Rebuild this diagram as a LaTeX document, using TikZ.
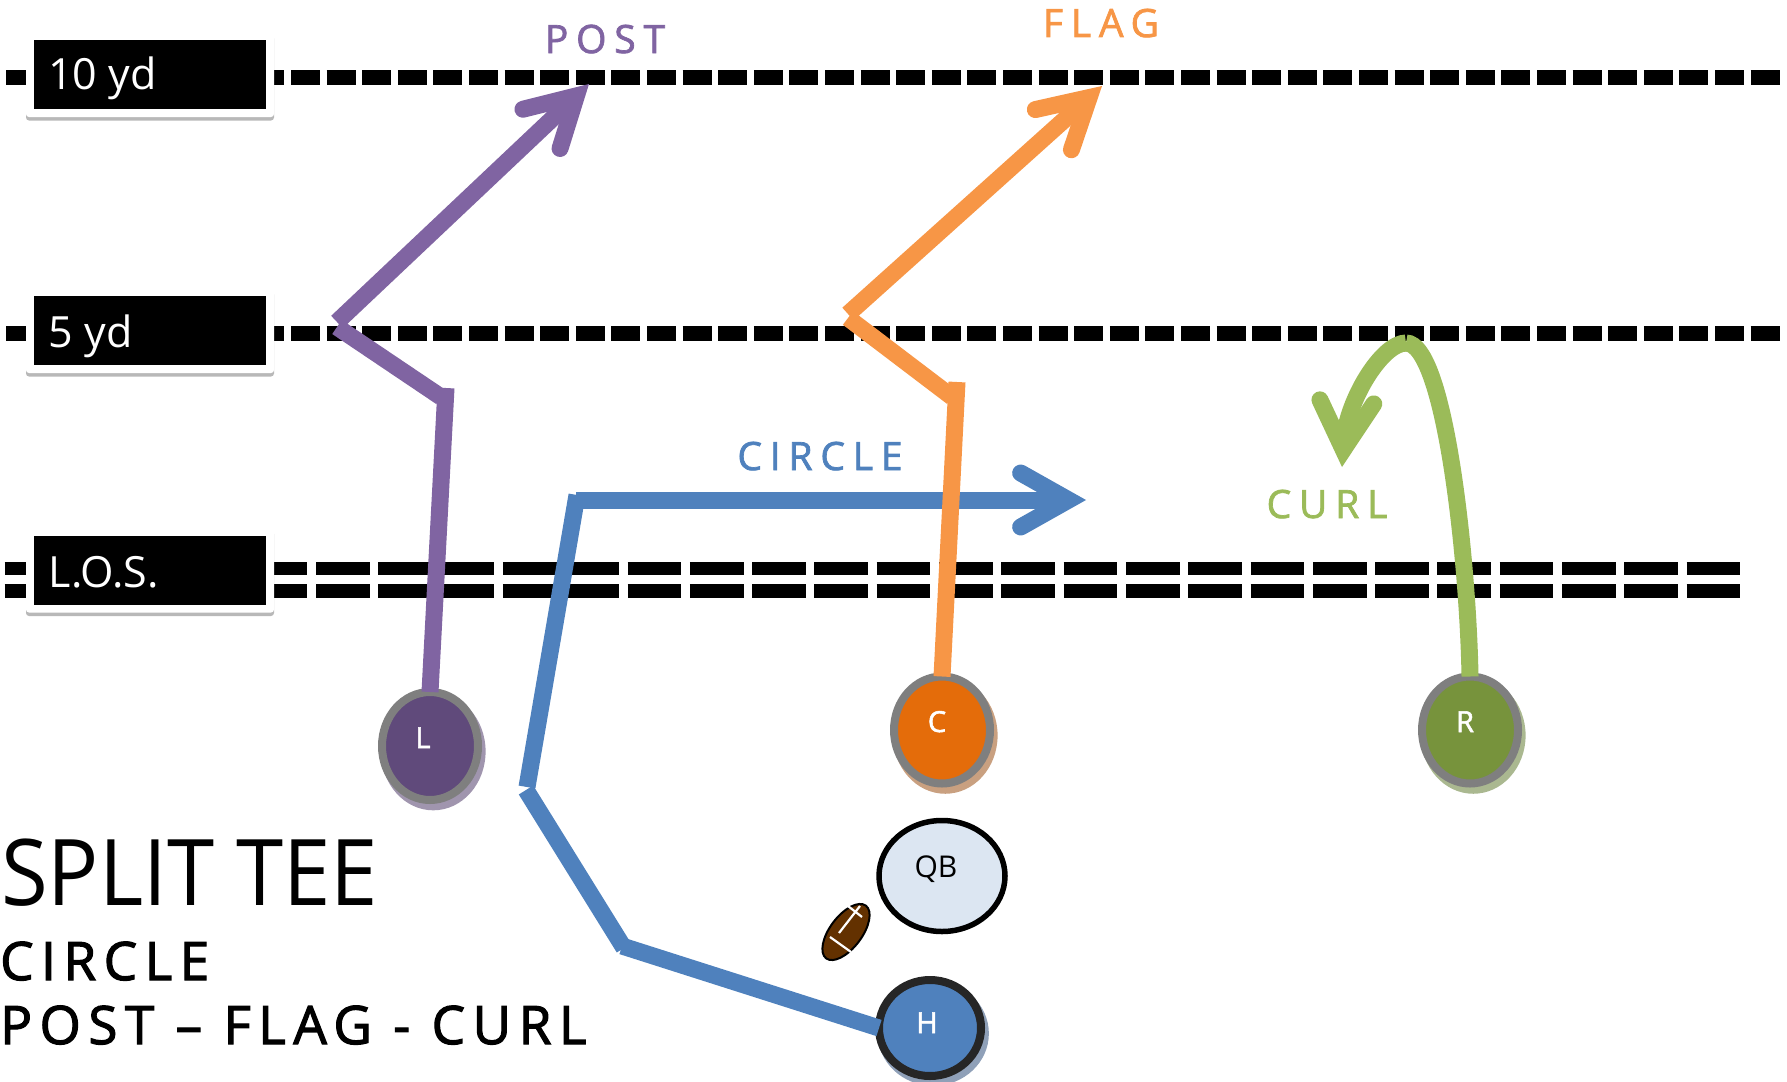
\documentclass[tikz,border=0pt]{standalone}
\usepackage{fontspec}
\setmainfont{Open Sans}
\newfontfamily\spacedfont[LetterSpace=20,FakeBold=1.8]{Open Sans}
\newfontfamily\spacedsemi[LetterSpace=14.2,FakeBold=2.2]{Open Sans}
\newfontfamily\titlefont[FakeStretch=0.925]{Open Sans}
\newfontfamily\playerfont[FakeBold=1.8]{Open Sans}
\usetikzlibrary{shapes.geometric,shadows,arrows.meta}
\definecolor{pathpurple}{HTML}{8064A2}
\definecolor{pathorange}{HTML}{F79646}
\definecolor{pathblue}{HTML}{4F81BD}
\definecolor{pathgreen}{HTML}{9BBB59}
\definecolor{ringgray}{HTML}{7F7F7F}
\definecolor{lfill}{HTML}{604A7B}
\definecolor{cfill}{HTML}{E46C0A}
\definecolor{rfill}{HTML}{77933C}
\definecolor{hring}{HTML}{262626}
\definecolor{qbfill}{HTML}{DCE6F2}
\definecolor{ballfill}{HTML}{633100}
\definecolor{lshade}{HTML}{A095AE}
\definecolor{cshade}{HTML}{C9A080}
\definecolor{rshade}{HTML}{AAB890}
\definecolor{hshade}{HTML}{8FA0B8}
\tikzset{
  yardline/.style={line width=15pt,dash pattern=on 29pt off 6.6pt},
  loslineA/.style={line width=13.4pt,dash pattern=on 53.7pt off 8.6pt},
  labelplate/.style={rectangle,fill=white,rounded corners=3pt,minimum width=248pt,minimum height=85pt,inner sep=0pt,
    drop shadow={shadow xshift=0pt,shadow yshift=-3.5pt,fill=black,opacity=.28}},
  labelink/.style={rectangle,fill=black,minimum width=232pt,minimum height=69pt,inner sep=0pt},
  labeltext/.style={anchor=base west,inner sep=0pt,text=white,font=\fontsize{43}{43}\selectfont},
  player/.style={ellipse,inner sep=0pt,line width=8pt,outer sep=0pt},
  playershade/.style={drop shadow={shadow xshift=3pt,shadow yshift=-5pt,shadow scale=1.09,fill=#1,opacity=1}},
  playertext/.style={anchor=base,inner sep=0pt,text=white,font=\fontsize{29}{29}\playerfont},
  route/.style={line width=17pt},
  routetip/.style={route,-{Straight Barb[length=48pt,width=54pt,line width=17pt,line cap=round,line join=miter]}},
  routename/.style={anchor=base,inner sep=0pt,font=\fontsize{39}{39}\spacedfont},
  title/.style={anchor=base west,inner sep=0pt,text=black},
}
\begin{document}
\begin{tikzpicture}[x=1pt,y=-1pt]
\useasboundingbox (0,0) rectangle (1787,1081);
% yard lines
\coordinate (y10a) at (6.2,77.3); \coordinate (y10b) at (1780,77.3);
\coordinate (y5a) at (6.2,333.5); \coordinate (y5b) at (1780,333.5);
\coordinate (lau) at (4.5,568.3); \coordinate (lbu) at (1740,568.3);
\coordinate (lal) at (4.5,590.8); \coordinate (lbl) at (1740,590.8);
\draw[yardline] (y10a) -- (y10b);
\draw[yardline] (y5a) -- (y5b);
\draw[loslineA] (lau) -- (lbu);
\draw[loslineA] (lal) -- (lbl);
% yard labels
\node[labelplate] (plate10) at (150,74.5) {};
\node[labelink] (ink10) at (150,74.5) {};
\node[labeltext] (text10) at (48,89) {10 yd};
\node[labelplate] (plate5) at (150,330.5) {};
\node[labelink] (ink5) at (150,330.5) {};
\node[labeltext] (text5) at (48.5,347) {5 yd};
\node[labelplate] (platelos) at (150,570) {};
\node[labelink] (inklos) at (150,570) {};
\node[labeltext] (textlos) at (48.5,587) {L.O.S.};
% players
\node[player,draw=ringgray,fill=lfill,minimum width=96pt,minimum height=108pt,playershade=lshade] (L) at (430,746) {};
\node[player,draw=ringgray,fill=cfill,minimum width=96pt,minimum height=107pt,playershade=cshade] (C) at (942,730) {};
\node[player,draw=ringgray,fill=rfill,minimum width=96pt,minimum height=107pt,playershade=rshade] (R) at (1470,730) {};
\node[player,draw=hring,fill=pathblue,minimum width=102pt,minimum height=96pt,playershade=hshade] (H) at (930,1028) {};
\node[ellipse,inner sep=0pt,outer sep=0pt,line width=5.5pt,draw=black,fill=qbfill,minimum width=126pt,minimum height=111pt] (QB) at (942,876) {};
\node[playertext] (Lt) at (423,748) {L};
\node[playertext] (Ct) at (937,732) {C};
\node[playertext] (Rt) at (1465,732) {R};
\node[playertext] (Ht) at (927,1033) {H};
\node[anchor=base,inner sep=0pt,text=black,font=\fontsize{30}{30}\selectfont] (QBt) at (936,877) {QB};
% football
\node[ellipse,inner sep=0pt,outer sep=0pt,line width=2pt,draw=black,fill=ballfill,minimum width=66pt,minimum height=32pt,rotate=53] (ball) at (846,932) {};
\coordinate (lace1a) at (839,933); \coordinate (lace1b) at (860,906);
\coordinate (lace2a) at (848,906); \coordinate (lace2b) at (862,917);
\coordinate (lace3a) at (830,937); \coordinate (lace3b) at (851,952);
\draw[white,line width=2.2pt] (lace1a) -- (lace1b) (lace2a) -- (lace2b) (lace3a) -- (lace3b);
% route points
\coordinate (p1) at (446,388); \coordinate (p2) at (441,397); \coordinate (p3) at (337,327); \coordinate (p4) at (337,322); \coordinate (p5) at (589,84);
\coordinate (o1) at (957,382); \coordinate (o2) at (952,397); \coordinate (o3) at (848,318); \coordinate (o4) at (848,314); \coordinate (o5) at (1102,86);
\coordinate (b1) at (622,946); \coordinate (b2) at (624,948); \coordinate (b3) at (526,790); \coordinate (b4) at (527,787); \coordinate (b5) at (577,495); \coordinate (b6) at (576,500); \coordinate (b7) at (1086,500);
\coordinate (g1) at (1406,343); \coordinate (g2) at (1342,467);
% routes
\draw[route,pathblue] (H.west) -- (b1);
\draw[route,pathblue] (b2) -- (b3);
\draw[route,pathblue] (b4) -- (b5);
\draw[routetip,pathblue] (b6) -- (b7);
\draw[route,pathpurple] (L.north) -- (p1);
\draw[route,pathpurple] (p2) -- (p3);
\draw[routetip,pathpurple] (p4) -- (p5);
\draw[route,pathorange] (C.north) -- (o1);
\draw[route,pathorange] (o2) -- (o3);
\draw[routetip,pathorange] (o4) -- (o5);
\draw[route,pathgreen] (R.north) .. controls (1468,560) and (1445,343) .. (g1);
\draw[routetip,pathgreen] (g1) .. controls (1382,343) and (1347,400) .. (g2);
% route names
\node[routename,text=pathpurple] (post) at (605,53) {POST};
\node[routename,text=pathorange] (flag) at (1101,37) {FLAG};
\node[routename,text=pathblue] (circ) at (820,470) {CIRCLE};
\node[routename,text=pathgreen] (curl) at (1327,518) {CURL};
% titles
\node[title,font=\fontsize{92}{92}\titlefont] (ttl) at (1,905) {SPLIT TEE};
\node[title,font=\fontsize{53}{53}\spacedsemi] (sub1) at (0,980) {CIRCLE};
\node[title,font=\fontsize{53}{53}\spacedsemi] (sub2) at (0,1044) {POST – FLAG - CURL};
\end{tikzpicture}
\end{document}
